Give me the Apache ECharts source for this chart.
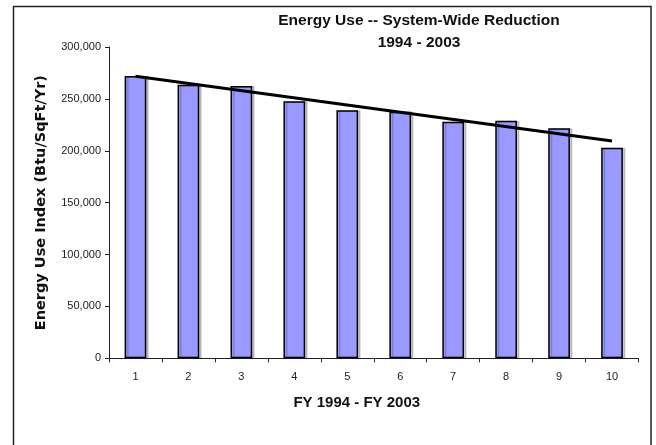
<!DOCTYPE html>
<html>
<head>
<meta charset="utf-8">
<script src="https://cdn.jsdelivr.net/npm/echarts@6/dist/echarts.min.js"></script>
<style>
html,body{margin:0;padding:0;background:#fff;}
#chart{width:656px;height:445px;}
</style>
</head>
<body>
<div id="chart"></div>
<script>
var categories = ['1','2','3','4','5','6','7','8','9','10'];
var energyUse = [272000, 263500, 262500, 247700, 239000, 237700, 228000, 229000, 221600, 203000];
var trendStart = 271800;
var trendEnd = 209400;
var yTicks = [0, 50000, 100000, 150000, 200000, 250000, 300000];
var titleText = 'Energy Use -- System-Wide Reduction\n1994 - 2003';
var xTitle = 'FY 1994 - FY 2003';
var yTitle = 'Energy Use Index (Btu/SqFt/Yr)';

var chart = echarts.init(document.getElementById('chart'), null, {renderer: 'canvas'});
var trendData = [[0, trendStart], [categories.length - 1, trendEnd]];

chart.setOption({
  animation: false,
  backgroundColor: '#fff',
  title: {
    text: titleText,
    left: 419,
    top: 10,
    padding: 0,
    textAlign: 'center',
    textStyle: {fontFamily: 'Liberation Sans', fontSize: 15.5, fontWeight: 'bold', color: '#111', lineHeight: 22}
  },
  graphic: [{
    type: 'rect',
    shape: {x: 13.5, y: 6.5, width: 637.5, height: 500},
    style: {fill: 'none', stroke: '#222', lineWidth: 1.5},
    silent: true, z: 100
  }],
  grid: {left: 109, top: 47, right: 17.5, bottom: 86.7, containLabel: false},
  xAxis: {
    type: 'category',
    data: categories,
    boundaryGap: true,
    name: xTitle,
    nameLocation: 'middle',
    nameGap: 37,
    nameTextStyle: {fontFamily: 'Liberation Sans', fontSize: 15, fontWeight: 'bold', color: '#111', padding: [0, 34, 0, 0]},
    axisLine: {lineStyle: {color: '#222', width: 1}},
    axisTick: {show: true, length: 4, interval: 0, alignWithLabel: false, lineStyle: {color: '#222'}},
    axisLabel: {fontFamily: 'Liberation Sans', fontSize: 11, color: '#222', margin: 13}
  },
  yAxis: {
    type: 'value',
    min: yTicks[0],
    max: yTicks[yTicks.length - 1],
    interval: yTicks[1] - yTicks[0],
    name: yTitle,
    nameLocation: 'middle',
    nameGap: 60,
    nameRotate: 90,
    nameTextStyle: {fontFamily: 'DejaVu Sans', fontSize: 14.5, fontWeight: 'bold', color: '#111'},
    axisLine: {show: true, lineStyle: {color: '#222', width: 1}},
    axisTick: {show: true, length: 4, lineStyle: {color: '#222'}},
    splitLine: {show: false},
    axisLabel: {
      fontFamily: 'Liberation Sans', fontSize: 11, color: '#222', margin: 8,
      formatter: function (v) { return v.toLocaleString('en-US'); }
    }
  },
  series: [{
    type: 'bar',
    data: energyUse,
    barCategoryGap: '59%',
    itemStyle: {color: '#9999FF', borderColor: '#000', borderWidth: 1.5,
      shadowColor: 'rgba(0,0,0,0.18)', shadowOffsetX: 2.5, shadowOffsetY: 0, shadowBlur: 0},
    z: 2
  }, {
    type: 'line',
    data: trendData,
    symbol: 'none',
    lineStyle: {color: '#000', width: 3},
    z: 3
  }]
});
</script>
</body>
</html>
